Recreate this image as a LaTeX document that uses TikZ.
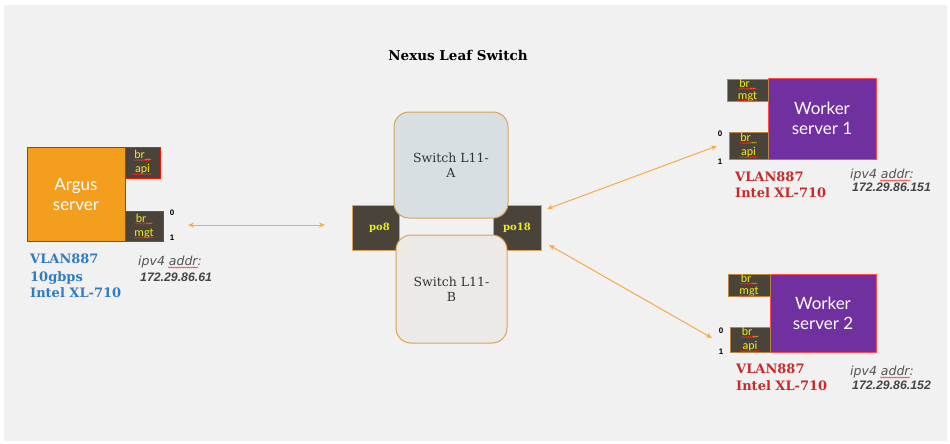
\documentclass[tikz,border=0pt]{standalone}
\usepackage{fontspec}
\usetikzlibrary{arrows.meta,calc,decorations.pathmorphing}
\newfontfamily\gfont{DejaVu Serif}
\newfontfamily\hfont{Lato}
\newfontfamily\cfont{Carlito}
\newfontfamily\afont{Liberation Sans}
\newfontfamily\dfont{DejaVu Sans}
\definecolor{bgc}{HTML}{F1F1F1}
\definecolor{argusc}{HTML}{F49E1E}
\definecolor{purplec}{HTML}{7030A0}
\definecolor{brdark}{HTML}{4A433A}
\definecolor{brbord}{HTML}{B88440}
\definecolor{swbord}{HTML}{D9A35A}
\definecolor{swA}{HTML}{D7DFE2}
\definecolor{swB}{HTML}{ECEAE7}
\definecolor{bluec}{HTML}{2F7CC4}
\definecolor{redc}{HTML}{C62A2A}
\definecolor{greyc}{HTML}{555555}
\definecolor{arrowc}{HTML}{F6AA48}
\definecolor{yel}{HTML}{F2EE1A}
\tikzset{
  box/.style={inner sep=0pt, outer sep=0pt, anchor=north west, align=center},
  server/.style={box, line width=0.8pt, text=white, font=\hfont\fontsize{17}{20}\selectfont},
  brbox/.style={box, fill=brdark, line width=0.8pt, text=yel, font=\cfont\fontsize{12}{14}\selectfont},
  pobox/.style={box, fill=brdark, draw=swbord, line width=0.8pt, text=yel, font=\gfont\bfseries\fontsize{10}{11}\selectfont},
  switchbox/.style={box, draw=swbord, line width=1pt, rounded corners=15pt, text=black!80, font=\gfont\fontsize{12.5}{15.5}\selectfont},
  portnum/.style={inner sep=0pt, font=\afont\bfseries\fontsize{8}{9}\selectfont},
  vlanb/.style={anchor=base west, inner sep=0pt, text=bluec, font=\gfont\bfseries\fontsize{13}{15}\selectfont},
  vlanr/.style={anchor=base west, inner sep=0pt, text=redc, font=\gfont\bfseries\fontsize{13}{15}\selectfont},
  ipl/.style={anchor=base west, inner sep=0pt, text=greyc, font=\dfont\itshape\fontsize{12.5}{14}\selectfont},
  ipn/.style={anchor=base west, inner sep=0pt, text=greyc!80!black, font=\afont\bfseries\itshape\fontsize{12.3}{14}\selectfont},
  conn/.style={draw=arrowc, line width=1pt, {Stealth[length=6pt,width=5pt]}-{Stealth[length=6pt,width=5pt]}},
  wavy/.style={draw=red!85, line width=0.45pt, decorate, decoration={snake, amplitude=0.6pt, segment length=2.2pt}}
}
\begin{document}
\begin{tikzpicture}[x=1pt,y=-1pt]
\fill[white] (0,0) rectangle (950,444);
\fill[bgc] (4,5) rectangle (947,441);

% title
\node[anchor=base, inner sep=0pt, font=\gfont\bfseries\fontsize{13.5}{15}\selectfont] (title) at (458,61) {Nexus Leaf Switch};

% Argus server
\node[server, fill=argusc, draw=red!85!orange, minimum width=98pt, minimum height=94pt] (argus) at (27,147) {Argus\\server};
\node[brbox, draw=red!85!orange, minimum width=35pt, minimum height=31pt] (aapi) at (125,147) {br\_\\api};
\node[brbox, draw=red!85!orange, minimum width=38pt, minimum height=30pt] (amgt) at (125,211) {br\_\\mgt};
\node[portnum] (a0) at (172,213) {0};
\node[portnum] (a1) at (172,238) {1};
\node[vlanb] (av1) at (30,263) {VLAN887};
\node[vlanb] (av2) at (30,281) {10gbps};
\node[vlanb] (av3) at (30,297.5) {Intel XL-710};
\node[ipl] (aip1) at (138,265) {ipv4 addr:};
\node[ipn] (aip2) at (140,281) {172.29.86.61};

% Port channels and switches
\node[pobox, minimum width=47pt, minimum height=45pt] (po8) at (352,205) {\hspace*{8pt}po8};
\node[pobox, minimum width=48pt, minimum height=45pt] (po18) at (493,205) {po18};
\node[switchbox, fill=swA, minimum width=114pt, minimum height=106pt] (swa) at (394,112) {Switch L11-\\A};
\node[switchbox, fill=swB, minimum width=111pt, minimum height=108pt] (swb) at (396,235) {Switch L11-\\B};

% Worker server 1
\node[server, fill=purplec, draw=red!70, minimum width=108pt, minimum height=81pt] (w1) at (768,78) {Worker\\server 1};
\node[brbox, draw=brbord, minimum width=41pt, minimum height=21pt, font=\cfont\fontsize{12}{12}\selectfont] (w1mgt) at (727,79) {br\_\\mgt};
\node[brbox, draw=brbord, minimum width=39pt, minimum height=27pt] (w1api) at (729,132) {br\_\\api};
\node[portnum] (w10) at (720,134) {0};
\node[portnum] (w11) at (720,162) {1};
\node[vlanr] (w1v1) at (735,181) {VLAN887};
\node[vlanr] (w1v2) at (735,197.5) {Intel XL-710};
\node[ipl] (w1ip1) at (850,178) {ipv4 addr:};
\node[ipn] (w1ip2) at (852,191) {172.29.86.151};

% Worker server 2
\node[server, fill=purplec, draw=red!70, minimum width=106pt, minimum height=78pt] (w2) at (770,274) {Worker\\server 2};
\node[brbox, draw=brbord, minimum width=42pt, minimum height=21pt, font=\cfont\fontsize{12}{12}\selectfont] (w2mgt) at (728,274) {br\_\\mgt};
\node[brbox, draw=brbord, minimum width=40pt, minimum height=25pt] (w2api) at (730,327) {br\_\\api};
\node[portnum] (w20) at (721,331) {0};
\node[portnum] (w21) at (721,352) {1};
\node[vlanr] (w2v1) at (736,373) {VLAN887};
\node[vlanr] (w2v2) at (736,390.5) {Intel XL-710};
\node[ipl] (w2ip1) at (850,375) {ipv4 addr:};
\node[ipn] (w2ip2) at (852,389) {172.29.86.152};

% spell-check underlines
\foreach \n/\a/\b in {aapi/-2.4/11.6, amgt/-2.4/11.6, w1api/-2.4/11.6, w2api/-2.4/11.6, w1mgt/-1.4/10.6, w2mgt/-1.4/10.6} {
  \draw[wavy] ($(\n.center)+(-9,\a)$) -- ++(17,0);
  \draw[wavy] ($(\n.center)+(-10,\b)$) -- ++(20,0);
}
\foreach \n in {aip1, w1ip1, w2ip1} {
  \draw[wavy] ($(\n.base east)+(-34,2.5)$) -- ++(30,0);
}

% connectors
\coordinate (c1) at ($(amgt.east)+(25,-1)$);
\coordinate (c2) at ($(po8.west)+(-27,-2.5)$);
\coordinate (c3) at ($(po18.east)+(6,-18.5)$);
\coordinate (c4) at ($(w1api.west)+(-12,0.5)$);
\coordinate (c5) at ($(po18.east)+(8,17.5)$);
\coordinate (c6) at ($(w2api.west)+(-18,-1.5)$);
\draw[conn] (c1) -- (c2);
\draw[conn] (c3) -- (c4);
\draw[conn] (c5) -- (c6);
\end{tikzpicture}
\end{document}
